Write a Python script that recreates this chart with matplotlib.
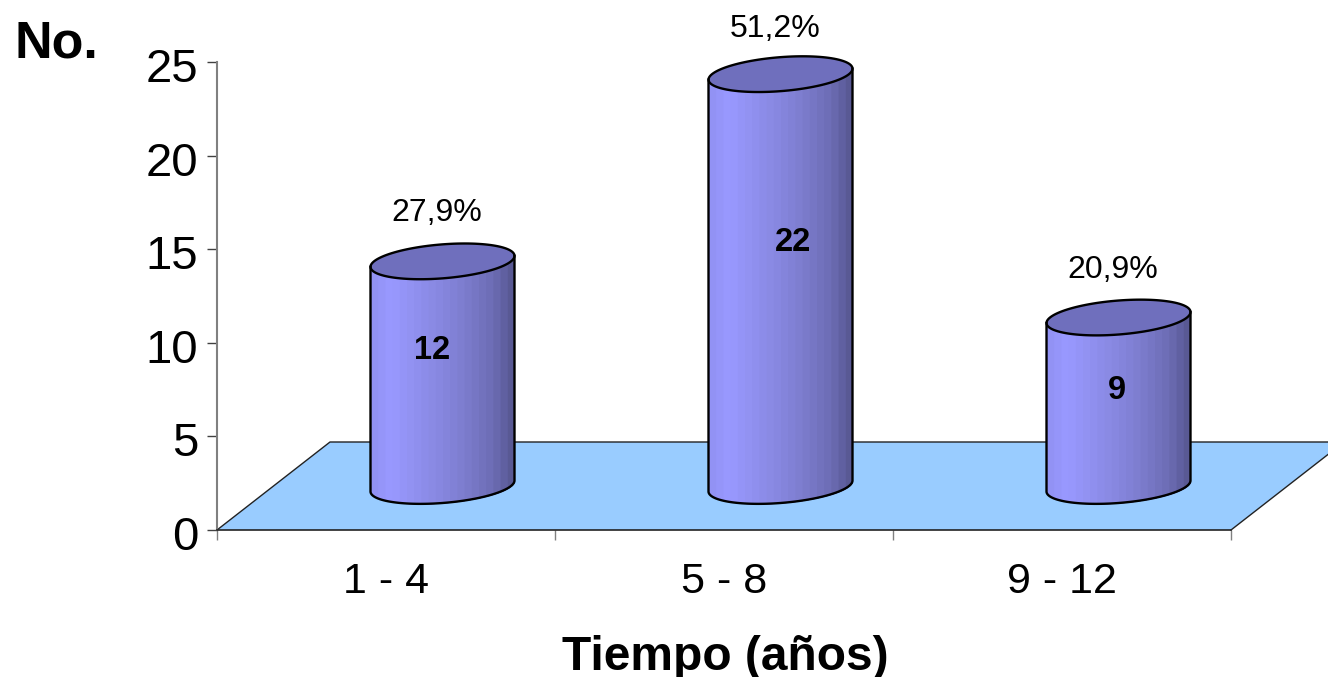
import numpy as np
import matplotlib
matplotlib.use("Agg")
import matplotlib.pyplot as plt
from matplotlib.colors import LinearSegmentedColormap
from matplotlib.transforms import ScaledTranslation

plt.rcParams['font.family'] = ['Liberation Sans', 'DejaVu Sans']

categories = ["1 - 4", "5 - 8", "9 - 12"]
counts = [12, 22, 9]
percents = ["27,9%", "51,2%", "20,9%"]
yticks = [0, 5, 10, 15, 20, 25]

W, H = 1328, 677
fig = plt.figure(figsize=(W / 100, H / 100), dpi=100)
ax = fig.add_axes([217 / W, 1 - 530 / H, 1014 / W, 468 / H])
ax.set_xlim(0, 3)
ax.set_ylim(0, 25)

# size of one pixel in data units
px = 3 / 1014
py = 25 / 468

# floor of the 3d chart
depth_x = 113 * px
depth_y = 88 * py
ax.fill([0, 3, 3 + depth_x, depth_x], [0, 0, depth_y, depth_y],
        facecolor="#99ccff", edgecolor="none", clip_on=False, zorder=1)
ax.plot([0, depth_x, 3 + depth_x], [0, depth_y, depth_y], color="#222222", lw=1.0,
        clip_on=False, zorder=1.5)
ax.plot([3, 3 + depth_x], [0, depth_y], color="#222222", lw=1.0, clip_on=False, zorder=1.5)

shade = LinearSegmentedColormap.from_list(
    "cyl", [(0, "#9090f2"), (0.14, "#9999ff"), (0.6, "#8080d4"), (0.85, "#6c6cb4"), (1, "#55558e")])


def rim(cx, cy, t):
    # ellipse of a cylinder end, right side a bit higher than the left
    x = cx + 72 * px * np.cos(t)
    y = cy - (17 * np.sin(t) - 5.5 * np.cos(t)) * py
    return x, y


def cylinder(cx, value):
    base = depth_y / 2
    top = base + value
    t = np.linspace(np.pi, 0, 121)
    xb, yb = rim(cx, base, t)

    # body made of vertical bands
    bands = 20
    edges = np.linspace(cx - 72 * px, cx + 72 * px, bands + 1)
    for k in range(bands):
        mask = xb >= edges[k] - 1e-9
        xs = np.r_[edges[k], xb[mask]]
        low = np.interp(xs, xb, yb)
        up = low + value
        ax.fill_between(xs, low, up, color=shade((k + 0.5) / bands), lw=0, zorder=2)

    xt, yt = rim(cx, top, np.linspace(0, 2 * np.pi, 121))
    ax.fill(xt, yt, facecolor="#6f6fbd", edgecolor="black", lw=1.7, zorder=3, clip_on=False)
    ax.plot(np.r_[xb[0], xb, xb[-1]], np.r_[yb[0] + value, yb, yb[-1] + value],
            color="black", lw=1.7, zorder=3, clip_on=False)
    return top


count_dx = [-10, 12, -2]
count_dy = [-2, -6, -8]
pct_dx = [-6, -5, -6]
pct_dy = [48, 45, 48]
for i, v in enumerate(counts):
    cx = i + 0.5 + depth_x / 2
    top = cylinder(cx, v)
    ax.text(cx + count_dx[i] * px, 0.6 * v + 2.5 + count_dy[i] * py, str(v), ha="center", va="center",
            fontsize=23.5, fontweight="bold", color="black", zorder=4)
    ax.text(cx + pct_dx[i] * px, top + pct_dy[i] * py, percents[i], ha="center", va="center",
            fontsize=23, color="black", zorder=4, clip_on=False)

# axes
for s in ["top", "right"]:
    ax.spines[s].set_visible(False)
ax.spines["left"].set_color("#808080")
ax.spines["left"].set_linewidth(1.5)
ax.spines["bottom"].set_color("#222222")
ax.spines["bottom"].set_linewidth(1.2)
ax.spines["left"].set_zorder(5)
ax.spines["bottom"].set_zorder(5)

ax.set_yticks(yticks)
ax.tick_params(axis="y", length=7.5, width=1.0, color="#404040", labelsize=34, pad=6)
down = ScaledTranslation(0, -3 / 100, fig.dpi_scale_trans)
for label in ax.get_yticklabels():
    label.set_transform(label.get_transform() + down)
ax.set_xticks([0, 1, 2, 3])
ax.set_xticklabels([])
ax.tick_params(axis="x", which="major", length=7.5, width=1.0, color="#808080")
ax.set_xticks([0.5, 1.5, 2.5], minor=True)
ax.set_xticklabels(categories, minor=True, fontsize=31)
ax.tick_params(axis="x", which="minor", length=0, pad=23)

fig.text(725 / W, 1 - 652 / H, "Tiempo (años)", ha="center", va="center_baseline",
         fontsize=34.5, fontweight="bold")
fig.text(14 / W, 1 - 58 / H, "No.", ha="left", va="baseline",
         fontsize=37.5, fontweight="bold")

fig.savefig("out.png", dpi=100)
